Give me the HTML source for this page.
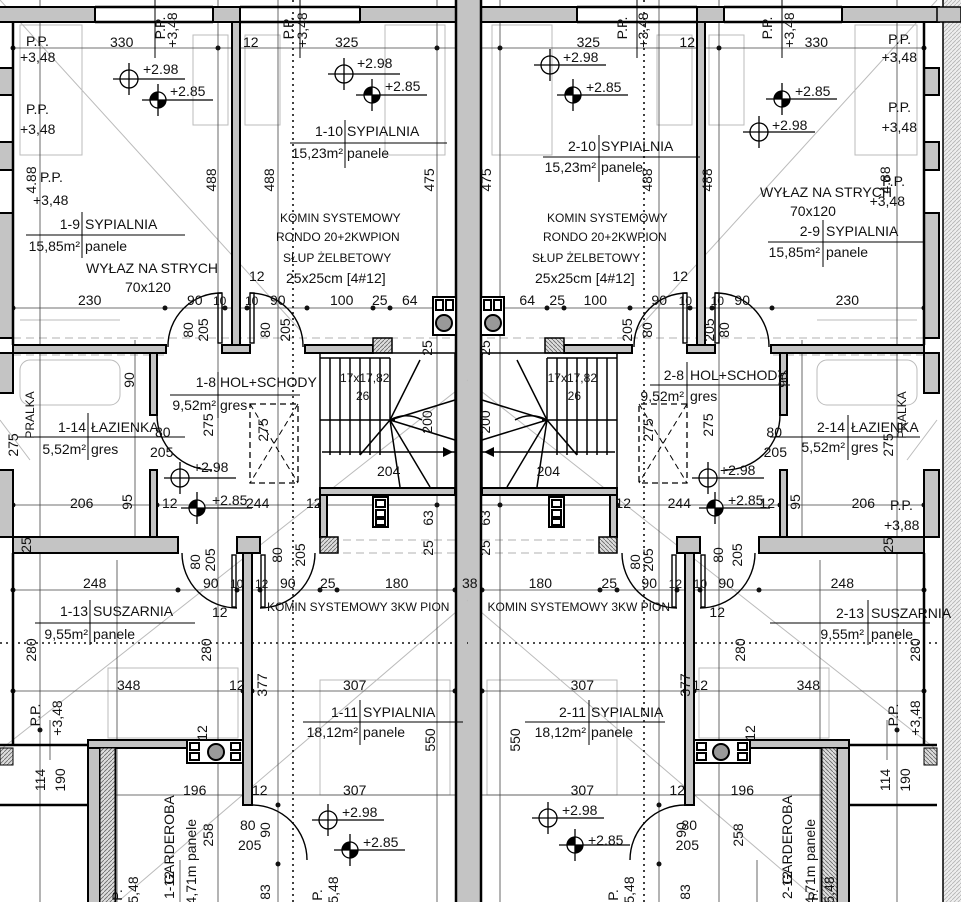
<!DOCTYPE html>
<html><head><meta charset="utf-8"><style>
html,body{margin:0;padding:0;background:#fff}
svg{display:block}
text{font-family:"Liberation Sans",sans-serif;font-size:14px;fill:#111}
.s{font-size:12px}
</style></head><body>
<svg width="961" height="902" viewBox="0 0 961 902" xmlns="http://www.w3.org/2000/svg">
<defs>
<pattern id="h" width="4" height="4" patternUnits="userSpaceOnUse"><rect width="4" height="4" fill="#ddd"/><path d="M0 4L4 0" stroke="#666" stroke-width="0.8"/></pattern>
<g id="L">
 <g stroke="#bbb" stroke-width="1" fill="none">
  <rect x="20" y="25" width="62" height="130"/>
  <rect x="193" y="35" width="35" height="90"/>
  <rect x="245" y="35" width="35" height="90"/>
  <rect x="385" y="25" width="60" height="130"/>
  <rect x="108" y="668" width="130" height="70"/>
  <rect x="320" y="680" width="130" height="115"/>
  <rect x="20" y="360" width="100" height="45" rx="10"/>
  <path d="M0 0L300 330M0 420L30 460M0 750L470 380M120 900L470 600M20 320L120 320"/>
 </g>
 <g stroke="#999" stroke-width="0.8" stroke-dasharray="8 5" fill="none">
  <path d="M13 338H455M13 355H165M330 540H455M330 553H455"/>
 </g>
 <g stroke="#444" stroke-width="0.8" fill="none">
  <path d="M13 48H455M13 308H455M13 505H455M13 590H455M13 691H455M100 795H455"/>
  <path d="M40 0V902M218 0V902M278 0V902M437 0V902M135 340V540M117 560V902M50 720V760M180 860V902"/>
 </g>
 <g fill="#111">
  <circle cx="13" cy="48" r="2.5"/><circle cx="218" cy="48" r="2.5"/><circle cx="437" cy="48" r="2.5"/>
  <circle cx="13" cy="308" r="2.5"/><circle cx="165" cy="308" r="2.5"/><circle cx="225" cy="308" r="2.5"/><circle cx="247" cy="308" r="2.5"/><circle cx="307" cy="308" r="2.5"/><circle cx="373" cy="308" r="2.5"/><circle cx="390" cy="308" r="2.5"/>
  <circle cx="13" cy="505" r="2.5"/><circle cx="157" cy="505" r="2.5"/><circle cx="320" cy="505" r="2.5"/><circle cx="437" cy="505" r="2.5"/>
  <circle cx="13" cy="590" r="2.5"/><circle cx="178" cy="590" r="2.5"/><circle cx="237" cy="590" r="2.5"/><circle cx="260" cy="590" r="2.5"/><circle cx="320" cy="590" r="2.5"/><circle cx="337" cy="590" r="2.5"/><circle cx="455" cy="590" r="2.5"/>
  <circle cx="13" cy="691" r="2.5"/><circle cx="243" cy="691" r="2.5"/><circle cx="252" cy="691" r="2.5"/><circle cx="455" cy="691" r="2.5"/>
  <circle cx="40" cy="730" r="2.5"/><circle cx="278" cy="805" r="2.5"/><circle cx="278" cy="864" r="2.5"/>
 </g>
 <path d="M293 0V902" stroke="#111" stroke-width="1.6" stroke-dasharray="2 4"/>
 <path d="M0 643H470" stroke="#111" stroke-width="1.6" stroke-dasharray="2 4"/>
 <g fill="#c4c4c4" stroke="#000" stroke-width="2">
  <rect x="-2" y="7" width="97" height="15"/>
  <rect x="213" y="7" width="27" height="15"/>
  <rect x="360" y="7" width="96" height="15"/>
  <rect x="456" y="-2" width="13" height="906" stroke="none"/>
  <rect x="-2" y="68" width="15" height="27"/>
  <rect x="-2" y="142" width="15" height="28"/>
  <rect x="-2" y="213" width="15" height="125"/>
  <rect x="232" y="22" width="8" height="330"/>
  <rect x="13" y="345" width="153" height="8"/>
  <rect x="222" y="345" width="28" height="8"/>
  <rect x="305" y="345" width="68" height="8"/>
  <rect x="150" y="353" width="7" height="62"/>
  <rect x="150" y="470" width="7" height="67"/>
  <rect x="13" y="537" width="165" height="16"/>
  <rect x="320" y="488" width="135" height="7"/>
  <rect x="320" y="495" width="7" height="42"/>
  <rect x="237" y="537" width="23" height="16"/>
  <rect x="243" y="553" width="9" height="252"/>
  <rect x="88" y="740" width="100" height="8"/>
  <rect x="88" y="748" width="12" height="160"/>
  <rect x="-2" y="353" width="15" height="40"/>
  <rect x="-2" y="470" width="15" height="67"/>
 </g>
 <g stroke="#000" stroke-width="2.5" fill="none">
  <path d="M13 22V345M13 553V745M456 0V902M95 7H213M240 7H360M95 22H213M240 22H360M115 748V902M0 745H88M0 805H88"/>
 </g>
 <rect x="373" y="338" width="19" height="15" fill="url(#h)" stroke="#000" stroke-width="1.5"/>
 <rect x="320" y="537" width="18" height="16" fill="url(#h)" stroke="#000" stroke-width="1.5"/>
 <rect x="0" y="748" width="13" height="17" fill="url(#h)" stroke="#000" stroke-width="1"/>
 <rect x="100" y="748" width="15" height="160" fill="url(#h)" stroke="#000" stroke-width="1"/>
 <g stroke="#000" stroke-width="2" fill="#fff">
  <rect x="433" y="297" width="23" height="38"/>
  <rect x="436" y="300" width="7" height="10"/><rect x="446" y="300" width="7" height="10"/>
  <circle cx="444" cy="323" r="8" fill="#999"/>
  <rect x="373" y="497" width="15" height="30"/>
  <rect x="376" y="500" width="9" height="7"/><rect x="376" y="510" width="9" height="7"/><rect x="376" y="519" width="9" height="6"/>
  <rect x="187" y="740" width="56" height="23"/>
  <rect x="190" y="743" width="9" height="7"/><rect x="190" y="753" width="9" height="7"/>
  <rect x="231" y="743" width="9" height="7"/><rect x="231" y="753" width="9" height="7"/>
  <circle cx="216" cy="752" r="8" fill="#999"/>
 </g>
 <g stroke="#000" stroke-width="1.5" fill="none">
  <rect x="320" y="353" width="135" height="135"/>
  <path d="M330 358V455M340 358V455M350 358V455M360 358V455M370 358V455M380 358V455M390 358V420"/>
  <path d="M320 358H390M320 420H395"/>
  <path d="M390 420L420 360M390 420L455 400M390 420L455 440M390 420L430 487M390 420L400 487M390 420L360 455"/>
  <path d="M390 420A32 32 0 0 1 422 420"/>
  <path d="M322 452H455"/>
 </g>
 <path d="M453 452l-10 -5v10z" fill="#000"/>
 <rect x="250" y="404" width="48" height="79" fill="none" stroke="#000" stroke-width="1.3" stroke-dasharray="6 4"/>
 <path d="M250 404L298 483M298 404L250 483" stroke="#000" stroke-width="1" stroke-dasharray="6 4"/>
 <g stroke="#000" stroke-width="1.4" fill="none">
  <path d="M168 347A53 53 0 0 1 222 293"/>
  <path d="M250 293A53 53 0 0 1 303 347"/>
  <rect x="218" y="293" width="4" height="50"/><rect x="250" y="293" width="4" height="50"/>
  <path d="M157 415A55 55 0 0 0 212 470"/>
  <path d="M182 553A55 55 0 0 0 237 608"/>
  <path d="M260 608A55 55 0 0 0 315 553"/>
  <rect x="232" y="555" width="4" height="52"/><rect x="261" y="555" width="4" height="52"/>
  <path d="M252 805A55 55 0 0 1 307 860"/>
 </g>
 <g stroke="#000" stroke-width="1" fill="none">
  <path d="M155 0V58M300 0V58"/>
 </g>
</g>
<g id="M1"><circle r="9" fill="none" stroke="#000" stroke-width="1.3"/><path d="M-16 0H56M0 -16V16" stroke="#000" stroke-width="1.3"/></g>
<g id="M2"><circle r="8" fill="#fff" stroke="#000" stroke-width="1.3"/><path d="M0 0V-8A8 8 0 0 0 -8 0Z M0 0V8A8 8 0 0 0 8 0Z" fill="#000"/><path d="M-16 0H55M0 -16V16" stroke="#000" stroke-width="1.3"/></g>
</defs>
<use href="#L"/>
<use href="#L" transform="translate(937,0) scale(-1,1)"/>
<rect x="943" y="0" width="18" height="902" fill="url(#h)" opacity="0.5"/>
<path d="M943 0V902" stroke="#000" stroke-width="1.5"/>
<rect x="937" y="7" width="24" height="15" fill="#c4c4c4" stroke="#000" stroke-width="1.5"/>

<use href="#M1" x="129" y="79"/><use href="#M2" x="158" y="100"/>
<use href="#M1" x="344" y="74"/><use href="#M2" x="372" y="95"/>
<use href="#M1" x="180" y="478"/><use href="#M2" x="197" y="508"/>
<use href="#M1" x="328" y="820"/><use href="#M2" x="350" y="850"/>
<use href="#M1" x="550" y="65"/><use href="#M2" x="573" y="95"/>
<use href="#M2" x="782" y="99"/><use href="#M1" x="759" y="132"/>
<use href="#M1" x="708" y="478"/><use href="#M2" x="715" y="508"/>
<use href="#M1" x="548" y="818"/><use href="#M2" x="575" y="845"/>

<g stroke="#000" stroke-width="1" fill="none">
 <path d="M26 235H185M82 212V258M290 143H447M345 120V168M170 395H300M218 372V418M18 437H185M88 413V460M35 623H195M90 600V645M303 722H463M360 700V745"/>
 <path d="M543 157H700M599 135V182M768 242H925M823 220V267M650 385H790M687 362V408M770 437H920M848 415V460M770 623H930M868 600V645M525 722H665M589 700V745"/>
</g>

<g>
<text x="26" y="46">P.P.</text><text x="20" y="62">+3,48</text>
<text x="26" y="114">P.P.</text><text x="20" y="134">+3,48</text>
<text x="40" y="182">P.P.</text><text x="33" y="205">+3,48</text>
<text x="110" y="47">330</text>
<text x="143" y="74">+2.98</text><text x="170" y="96">+2.85</text>
<text x="243" y="47">12</text><text x="335" y="47">325</text>
<text x="357" y="68">+2.98</text><text x="385" y="91">+2.85</text>
<text x="80" y="229" text-anchor="end">1-9</text><text x="85" y="229">SYPIALNIA</text>
<text x="80" y="251" text-anchor="end">15,85m²</text><text x="85" y="251">panele</text>
<text x="86" y="273">WYŁAZ NA STRYCH</text><text x="125" y="292">70x120</text>
<text x="343" y="136" text-anchor="end">1-10</text><text x="347" y="136">SYPIALNIA</text>
<text x="343" y="158" text-anchor="end">15,23m²</text><text x="347" y="158">panele</text>
<text x="280" y="222" class="s">KOMIN SYSTEMOWY</text>
<text x="276" y="241" class="s">RONDO 20+2KWPION</text>
<text x="283" y="262" class="s">SŁUP ŻELBETOWY</text>
<text x="286" y="283">25x25cm [4#12]</text>
<text x="78" y="305">230</text><text x="187" y="305">90</text><text x="213" y="305" class="s">10</text><text x="249" y="281">12</text><text x="245" y="305" class="s">10</text><text x="270" y="305">90</text><text x="330" y="305">100</text><text x="372" y="305">25</text><text x="402" y="305">64</text>
<text x="216" y="387" text-anchor="end">1-8</text><text x="220" y="387">HOL+SCHODY</text>
<text x="216" y="410" text-anchor="end">9,52m²</text><text x="220" y="410">gres</text>
<text x="86" y="432" text-anchor="end">1-14</text><text x="91" y="432">ŁAZIENKA</text>
<text x="86" y="454" text-anchor="end">5,52m²</text><text x="91" y="454">gres</text>
<text x="155" y="437">80</text><text x="150" y="457">205</text>
<text x="340" y="382" class="s">17x17,82</text><text x="356" y="400" class="s">26</text>
<text x="377" y="476">204</text>
<text x="193" y="472">+2.98</text><text x="212" y="505">+2.85</text>
<text x="70" y="508">206</text><text x="162" y="508">12</text><text x="246" y="508">244</text><text x="306" y="508">12</text>
<text x="83" y="588">248</text><text x="203" y="588">90</text><text x="230" y="588" class="s">10</text><text x="255" y="588" class="s">12</text><text x="280" y="588">90</text><text x="320" y="588">25</text><text x="385" y="588">180</text><text x="462" y="588">38</text>
<text x="88" y="616" text-anchor="end">1-13</text><text x="93" y="616">SUSZARNIA</text>
<text x="88" y="639" text-anchor="end">9,55m²</text><text x="93" y="639">panele</text>
<text x="212" y="617">12</text>
<text x="267" y="611" class="s">KOMIN SYSTEMOWY 3KW PION</text>
<text x="117" y="690">348</text><text x="229" y="690">12</text><text x="343" y="690">307</text>
<text x="358" y="717" text-anchor="end">1-11</text><text x="363" y="717">SYPIALNIA</text>
<text x="358" y="737" text-anchor="end">18,12m²</text><text x="363" y="737">panele</text>
<text x="183" y="795">196</text><text x="252" y="795">12</text><text x="343" y="795">307</text>
<text x="342" y="817">+2.98</text><text x="363" y="847">+2.85</text>
<text x="240" y="830">80</text><text x="238" y="850">205</text>
<text transform="translate(36,180) rotate(-90)" text-anchor="middle">4.88</text>
<text transform="translate(216,180) rotate(-90)" text-anchor="middle">488</text>
<text transform="translate(274,180) rotate(-90)" text-anchor="middle">488</text>
<text transform="translate(434,180) rotate(-90)" text-anchor="middle">475</text>
<text transform="translate(165,28) rotate(-90)" text-anchor="middle">P.P.</text>
<text transform="translate(177,30) rotate(-90)" text-anchor="middle">+3,48</text>
<text transform="translate(293,28) rotate(-90)" text-anchor="middle">P.P.</text>
<text transform="translate(307,30) rotate(-90)" text-anchor="middle">+3,48</text>
<text transform="translate(193,330) rotate(-90)" text-anchor="middle">80</text>
<text transform="translate(208,330) rotate(-90)" text-anchor="middle">205</text>
<text transform="translate(270,330) rotate(-90)" text-anchor="middle">80</text>
<text transform="translate(290,330) rotate(-90)" text-anchor="middle">205</text>
<text transform="translate(432,348) rotate(-90)" text-anchor="middle">25</text>
<text transform="translate(134,380) rotate(-90)" text-anchor="middle">90</text>
<text transform="translate(34,415) rotate(-90)" text-anchor="middle" class="s">PRALKA</text>
<text transform="translate(18,445) rotate(-90)" text-anchor="middle">275</text>
<text transform="translate(213,425) rotate(-90)" text-anchor="middle">275</text>
<text transform="translate(268,430) rotate(-90)" text-anchor="middle">275</text>
<text transform="translate(432,422) rotate(-90)" text-anchor="middle">200</text>
<text transform="translate(132,502) rotate(-90)" text-anchor="middle">95</text>
<text transform="translate(433,518) rotate(-90)" text-anchor="middle">63</text>
<text transform="translate(433,548) rotate(-90)" text-anchor="middle">25</text>
<text transform="translate(31,545) rotate(-90)" text-anchor="middle">25</text>
<text transform="translate(200,562) rotate(-90)" text-anchor="middle">80</text>
<text transform="translate(215,560) rotate(-90)" text-anchor="middle">205</text>
<text transform="translate(282,555) rotate(-90)" text-anchor="middle">80</text>
<text transform="translate(305,555) rotate(-90)" text-anchor="middle">205</text>
<text transform="translate(36,650) rotate(-90)" text-anchor="middle">280</text>
<text transform="translate(211,650) rotate(-90)" text-anchor="middle">280</text>
<text transform="translate(267,685) rotate(-90)" text-anchor="middle">377</text>
<text transform="translate(435,740) rotate(-90)" text-anchor="middle">550</text>
<text transform="translate(40,715) rotate(-90)" text-anchor="middle">P.P.</text>
<text transform="translate(62,718) rotate(-90)" text-anchor="middle">+3,48</text>
<text transform="translate(45,780) rotate(-90)" text-anchor="middle">114</text>
<text transform="translate(65,780) rotate(-90)" text-anchor="middle">190</text>
<text transform="translate(207,733) rotate(-90)" text-anchor="middle">12</text>
<text transform="translate(213,835) rotate(-90)" text-anchor="middle">258</text>
<text transform="translate(270,830) rotate(-90)" text-anchor="middle">90</text>
<text transform="translate(174,840) rotate(-90)" text-anchor="middle">GARDEROBA</text>
<text transform="translate(174,885) rotate(-90)" text-anchor="middle">1-12</text>
<text transform="translate(196,840) rotate(-90)" text-anchor="middle">panele</text>
<text transform="translate(196,885) rotate(-90)" text-anchor="middle">4,71m</text>
<text transform="translate(122,895) rotate(-90)" text-anchor="middle">P.</text>
<text transform="translate(138,890) rotate(-90)" text-anchor="middle">5,48</text>
<text transform="translate(322,895) rotate(-90)" text-anchor="middle">P.</text>
<text transform="translate(338,890) rotate(-90)" text-anchor="middle">5,48</text>
<text transform="translate(270,892) rotate(-90)" text-anchor="middle">83</text>
</g>

<g>
<text x="911" y="44" text-anchor="end">P.P.</text><text x="917" y="62" text-anchor="end">+3,48</text>
<text x="911" y="112" text-anchor="end">P.P.</text><text x="917" y="132" text-anchor="end">+3,48</text>
<text x="905" y="186" text-anchor="end">P.P.</text><text x="905" y="206" text-anchor="end">+3,48</text>
<text x="828" y="47" text-anchor="end">330</text>
<text x="563" y="62">+2.98</text><text x="586" y="92">+2.85</text>
<text x="795" y="96">+2.85</text><text x="772" y="130">+2.98</text>
<text x="695" y="47" text-anchor="end">12</text><text x="600" y="47" text-anchor="end">325</text>
<text x="760" y="197">WYŁAZ NA STRYCH</text><text x="790" y="216">70x120</text>
<text x="820" y="236" text-anchor="end">2-9</text><text x="826" y="236">SYPIALNIA</text>
<text x="820" y="257" text-anchor="end">15,85m²</text><text x="826" y="257">panele</text>
<text x="596" y="151" text-anchor="end">2-10</text><text x="601" y="151">SYPIALNIA</text>
<text x="596" y="172" text-anchor="end">15,23m²</text><text x="601" y="172">panele</text>
<text x="547" y="222" class="s">KOMIN SYSTEMOWY</text>
<text x="543" y="241" class="s">RONDO 20+2KWPION</text>
<text x="532" y="262" class="s">SŁUP ŻELBETOWY</text>
<text x="535" y="283">25x25cm [4#12]</text>
<text x="859" y="305" text-anchor="end">230</text><text x="750" y="305" text-anchor="end">90</text><text x="724" y="305" text-anchor="end" class="s">10</text><text x="688" y="281" text-anchor="end">12</text><text x="692" y="305" text-anchor="end" class="s">10</text><text x="667" y="305" text-anchor="end">90</text><text x="607" y="305" text-anchor="end">100</text><text x="565" y="305" text-anchor="end">25</text><text x="535" y="305" text-anchor="end">64</text>
<text x="684" y="380" text-anchor="end">2-8</text><text x="690" y="380">HOL+SCHODY</text>
<text x="684" y="401" text-anchor="end">9,52m²</text><text x="690" y="401">gres</text>
<text x="845" y="432" text-anchor="end">2-14</text><text x="851" y="432">ŁAZIENKA</text>
<text x="845" y="452" text-anchor="end">5,52m²</text><text x="851" y="452">gres</text>
<text x="782" y="437" text-anchor="end">80</text><text x="787" y="457" text-anchor="end">205</text>
<text x="597" y="382" text-anchor="end" class="s">17x17,82</text><text x="581" y="400" class="s" text-anchor="end">26</text>
<text x="560" y="476" text-anchor="end">204</text>
<text x="720" y="475">+2.98</text><text x="728" y="505">+2.85</text>
<text x="875" y="508" text-anchor="end">206</text><text x="775" y="508" text-anchor="end">12</text><text x="691" y="508" text-anchor="end">244</text><text x="631" y="508" text-anchor="end">12</text>
<text x="890" y="510">P.P.</text><text x="884" y="530">+3,88</text>
<text x="854" y="588" text-anchor="end">248</text><text x="734" y="588" text-anchor="end">90</text><text x="707" y="588" text-anchor="end" class="s">10</text><text x="682" y="588" text-anchor="end" class="s">12</text><text x="657" y="588" text-anchor="end">90</text><text x="617" y="588" text-anchor="end">25</text><text x="552" y="588" text-anchor="end">180</text>
<text x="864" y="618" text-anchor="end">2-13</text><text x="871" y="618">SUSZARNIA</text>
<text x="864" y="639" text-anchor="end">9,55m²</text><text x="871" y="639">panele</text>
<text x="725" y="617" text-anchor="end">12</text>
<text x="670" y="611" text-anchor="end" class="s">KOMIN SYSTEMOWY 3KW PION</text>
<text x="820" y="690" text-anchor="end">348</text><text x="708" y="690" text-anchor="end">12</text><text x="594" y="690" text-anchor="end">307</text>
<text x="586" y="717" text-anchor="end">2-11</text><text x="591" y="717">SYPIALNIA</text>
<text x="586" y="737" text-anchor="end">18,12m²</text><text x="591" y="737">panele</text>
<text x="754" y="795" text-anchor="end">196</text><text x="685" y="795" text-anchor="end">12</text><text x="594" y="795" text-anchor="end">307</text>
<text x="562" y="815">+2.98</text><text x="588" y="845">+2.85</text>
<text x="697" y="830" text-anchor="end">80</text><text x="699" y="850" text-anchor="end">205</text>
<text transform="translate(890,180) rotate(-90)" text-anchor="middle">4.88</text>
<text transform="translate(712,180) rotate(-90)" text-anchor="middle">488</text>
<text transform="translate(652,180) rotate(-90)" text-anchor="middle">488</text>
<text transform="translate(491,180) rotate(-90)" text-anchor="middle">475</text>
<text transform="translate(772,28) rotate(-90)" text-anchor="middle">P.P.</text>
<text transform="translate(794,30) rotate(-90)" text-anchor="middle">+3,48</text>
<text transform="translate(627,28) rotate(-90)" text-anchor="middle">P.P.</text>
<text transform="translate(648,30) rotate(-90)" text-anchor="middle">+3,48</text>
<text transform="translate(729,330) rotate(-90)" text-anchor="middle">80</text>
<text transform="translate(714,330) rotate(-90)" text-anchor="middle">205</text>
<text transform="translate(652,330) rotate(-90)" text-anchor="middle">80</text>
<text transform="translate(632,330) rotate(-90)" text-anchor="middle">205</text>
<text transform="translate(490,348) rotate(-90)" text-anchor="middle">25</text>
<text transform="translate(788,380) rotate(-90)" text-anchor="middle">90</text>
<text transform="translate(906,415) rotate(-90)" text-anchor="middle" class="s">PRALKA</text>
<text transform="translate(893,445) rotate(-90)" text-anchor="middle">275</text>
<text transform="translate(713,425) rotate(-90)" text-anchor="middle">275</text>
<text transform="translate(653,430) rotate(-90)" text-anchor="middle">275</text>
<text transform="translate(490,422) rotate(-90)" text-anchor="middle">200</text>
<text transform="translate(800,502) rotate(-90)" text-anchor="middle">95</text>
<text transform="translate(490,518) rotate(-90)" text-anchor="middle">63</text>
<text transform="translate(490,548) rotate(-90)" text-anchor="middle">25</text>
<text transform="translate(893,545) rotate(-90)" text-anchor="middle">25</text>
<text transform="translate(640,562) rotate(-90)" text-anchor="middle">80</text>
<text transform="translate(653,560) rotate(-90)" text-anchor="middle">205</text>
<text transform="translate(723,555) rotate(-90)" text-anchor="middle">80</text>
<text transform="translate(742,555) rotate(-90)" text-anchor="middle">205</text>
<text transform="translate(920,650) rotate(-90)" text-anchor="middle">280</text>
<text transform="translate(745,650) rotate(-90)" text-anchor="middle">280</text>
<text transform="translate(690,685) rotate(-90)" text-anchor="middle">377</text>
<text transform="translate(520,740) rotate(-90)" text-anchor="middle">550</text>
<text transform="translate(898,715) rotate(-90)" text-anchor="middle">P.P.</text>
<text transform="translate(920,718) rotate(-90)" text-anchor="middle">+3,48</text>
<text transform="translate(890,780) rotate(-90)" text-anchor="middle">114</text>
<text transform="translate(910,780) rotate(-90)" text-anchor="middle">190</text>
<text transform="translate(755,733) rotate(-90)" text-anchor="middle">12</text>
<text transform="translate(743,835) rotate(-90)" text-anchor="middle">258</text>
<text transform="translate(686,830) rotate(-90)" text-anchor="middle">90</text>
<text transform="translate(792,840) rotate(-90)" text-anchor="middle">GARDEROBA</text>
<text transform="translate(792,885) rotate(-90)" text-anchor="middle">2-12</text>
<text transform="translate(815,840) rotate(-90)" text-anchor="middle">panele</text>
<text transform="translate(815,885) rotate(-90)" text-anchor="middle">4,71m</text>
<text transform="translate(818,895) rotate(-90)" text-anchor="middle">P.</text>
<text transform="translate(834,890) rotate(-90)" text-anchor="middle">5,48</text>
<text transform="translate(618,895) rotate(-90)" text-anchor="middle">P.</text>
<text transform="translate(634,890) rotate(-90)" text-anchor="middle">5,48</text>
<text transform="translate(690,892) rotate(-90)" text-anchor="middle">83</text>
</g>
</svg>
</body></html>
